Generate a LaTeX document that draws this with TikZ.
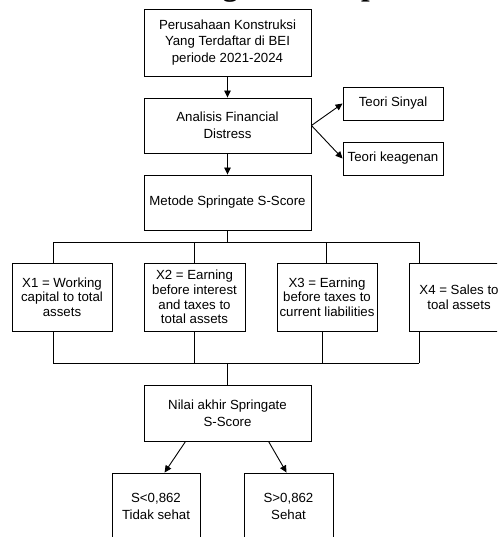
\documentclass[tikz,border=0pt]{standalone}
\usepackage{fontspec}
\setmainfont{Liberation Sans}
\newfontfamily\titlefont{Liberation Serif}
\usetikzlibrary{arrows.meta,calc}
\begin{document}
\begin{tikzpicture}[x=1pt,y=-1pt,
  box/.style={draw, line width=0.9pt, align=center, inner sep=0pt,
    font=\fontsize{13.25}{16.7}\selectfont},
  xbox/.style={box, minimum width=100pt, minimum height=68pt,
    font=\fontsize{13.25}{14.6}\selectfont},
  arr/.style={-{Triangle[length=7pt,width=6.5pt]}, line width=0.9pt},
  ln/.style={line width=0.9pt}]
\useasboundingbox (0,0) rectangle (497,537);
\clip (0,0) rectangle (497,537);
\fill[white] (0,0) rectangle (497,537);
\node[anchor=base west, inner sep=0pt, font=\titlefont\bfseries\fontsize{31}{36}\selectfont] (title) at (138,-4) {Kerangka Konseptual};

\node[box, minimum width=167pt, minimum height=67pt] (a) at (227.5,42.5) {Perusahaan Konstruksi\\Yang Terdaftar di BEI\\periode 2021-2024};
\node[box, minimum width=167pt, minimum height=55pt] (b) at (227.5,125.5) {Analisis Financial\\Distress};
\node[box, minimum width=100pt, minimum height=33pt] (ts) at (393,103.5) {Teori Sinyal};
\node[box, minimum width=100pt, minimum height=33pt] (tk) at (393,158.5) {Teori keagenan};
\node[box, minimum width=167pt, minimum height=55pt] (c) at (227.5,202.5) {Metode Springate S-Score};

\node[xbox] (x1) at (62,297) {X1 = Working\\capital to total\\assets};
\node[xbox, minimum width=101pt] (x2) at (194.5,297) {X2 = Earning\\before interest\\and taxes to\\total assets};
\node[xbox] (x3) at (327,297) {X3 = Earning\\before taxes to\\current liabilities};
\node[xbox] (x4) at (459,297) {X4 = Sales to\\toal assets};

\node[box, minimum width=167pt, minimum height=56pt] (n) at (227.5,413) {Nilai akhir Springate\\S-Score};
\node[box, minimum width=88pt, minimum height=67pt] (s1) at (156,506.5) {S<0,862\\Tidak sehat};
\node[box, minimum width=89pt, minimum height=67pt] (s2) at (288.5,506.5) {S>0,862\\Sehat};

\draw[arr] (a) -- (b);
\draw[arr] (b.east) -- (ts.west);
\draw[arr] (b.east) -- (tk.west);
\draw[arr] (b) -- (c);

\coordinate (t1) at (53,242);
\coordinate (t2) at (194,242);
\coordinate (t3) at (326,242);
\coordinate (t4) at (419,242);
\draw[ln] (c.south) -- (c.south |- t1);
\draw[ln] (t1) -- (t4);
\draw[ln] (t1) -- (t1 |- x1.north);
\draw[ln] (t2) -- (t2 |- x2.north);
\draw[ln] (t3) -- (t3 |- x3.north);
\draw[ln] (t4) -- (t4 |- x4.north);

\coordinate (u1) at (53,363);
\coordinate (u2) at (194,363);
\coordinate (u3) at (322,363);
\coordinate (u4) at (419,363);
\draw[ln] (u1 |- x1.south) -- (u1);
\draw[ln] (u2 |- x2.south) -- (u2);
\draw[ln] (u3 |- x3.south) -- (u3);
\draw[ln] (u4 |- x4.south) -- (u4);
\draw[ln] (u1) -- (u4);
\draw[ln] (n.north |- u1) -- (n.north);

\draw[arr] ($(n.south west)+(42,0)$) -- ($(s1.north west)+(53,0)$);
\draw[arr] ($(n.south west)+(125,0)$) -- ($(s2.north west)+(43,0)$);
\end{tikzpicture}
\end{document}
